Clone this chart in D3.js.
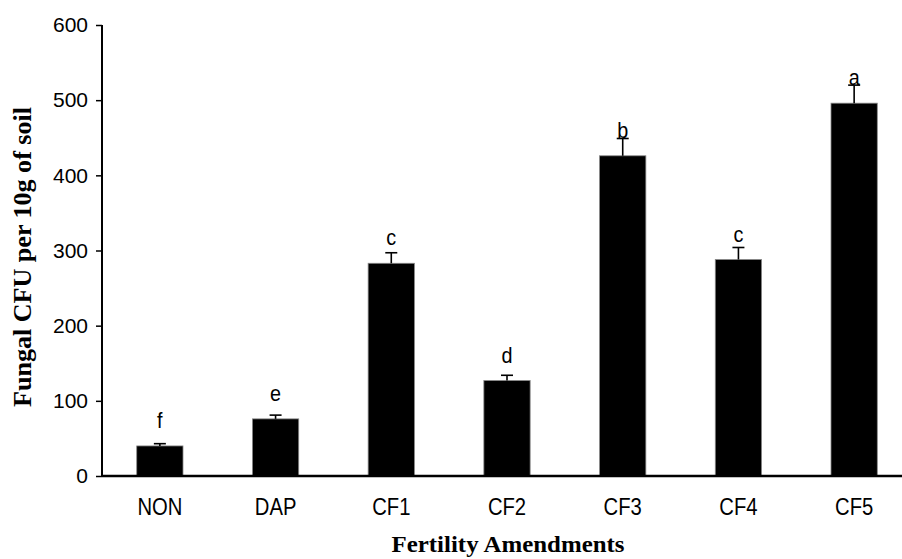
<!DOCTYPE html>
<html>
<head>
<meta charset="utf-8">
<script src="https://cdn.jsdelivr.net/npm/d3@7"></script>
<style>
body { margin: 0; background: #fff; }
svg { display: block; }
.y-axis .tick text { font-family: "Liberation Sans", Arial, sans-serif; font-size: 21px; fill: #000; }
</style>
</head>
<body>
<svg id="chart"></svg>
<script>
// data
var categories = ["NON", "DAP", "CF1", "CF2", "CF3", "CF4", "CF5"];
var cfuValues = [40, 76, 283, 127, 426, 288, 496];
var cfuErrors = [3, 5, 14, 7, 23, 16, 24];
var letters = ["f", "e", "c", "d", "b", "c", "a"];
var yTicks = [0, 100, 200, 300, 400, 500, 600];

var margin = {top: 25, right: -10, bottom: 83, left: 102};
var width = 902 - margin.left - margin.right;
var height = 559 - margin.top - margin.bottom;

var svg = d3.select("#chart")
  .attr("width", 902)
  .attr("height", 559);

var g = svg.append("g")
  .attr("transform", "translate(" + margin.left + "," + margin.top + ")");

var x = d3.scaleBand().domain(categories).range([0, width]).padding(0);
var y = d3.scaleLinear().domain([0, 600]).range([height, 0]);
var barW = x.bandwidth() * 0.4;

var data = categories.map(function(c, i) {
  return {cat: c, val: cfuValues[i], err: cfuErrors[i], letter: letters[i]};
});

// bars
g.selectAll("rect.bar")
  .data(data)
  .enter()
  .append("rect")
  .attr("class", "bar")
  .attr("x", function(d) { return x(d.cat) + (x.bandwidth() - barW) / 2; })
  .attr("y", function(d) { return y(d.val); })
  .attr("width", barW)
  .attr("height", function(d) { return height - y(d.val); })
  .style("fill", "#000")
  .style("stroke", "#888")
  .style("stroke-width", "0.8px");

// error bars (upper half only)
var eb = g.selectAll("g.err").data(data).enter().append("g").attr("class", "err");
eb.append("line")
  .attr("x1", function(d) { return x(d.cat) + x.bandwidth() / 2; })
  .attr("x2", function(d) { return x(d.cat) + x.bandwidth() / 2; })
  .attr("y1", function(d) { return y(d.val); })
  .attr("y2", function(d) { return y(d.val + d.err); })
  .style("stroke", "#000").style("stroke-width", "1.6px");
eb.append("line")
  .attr("x1", function(d) { return x(d.cat) + x.bandwidth() / 2 - 6; })
  .attr("x2", function(d) { return x(d.cat) + x.bandwidth() / 2 + 6; })
  .attr("y1", function(d) { return y(d.val + d.err); })
  .attr("y2", function(d) { return y(d.val + d.err); })
  .style("stroke", "#000").style("stroke-width", "1.6px");

// significance letters
g.selectAll("text.letter")
  .data(data)
  .enter()
  .append("text")
  .attr("class", "letter")
  .attr("transform", function(d) {
    return "translate(" + (x(d.cat) + x.bandwidth() / 2) + "," + (y(d.val) - 18) + ") scale(0.9,1)";
  })
  .attr("text-anchor", "middle")
  .style("font-family", "'Liberation Sans', Arial, sans-serif")
  .style("font-size", "22px")
  .text(function(d) { return d.letter; });

// axes
var yAxis = d3.axisLeft(y).tickValues(yTicks).tickSize(6).tickPadding(8);
var yG = g.append("g").attr("class", "y-axis").call(yAxis);
yG.select(".domain").attr("d", "M0," + y(600) + "V" + height).style("stroke", "#000").style("stroke-width", "2px");
yG.selectAll(".tick line").style("stroke", "#000").style("stroke-width", "1.5px");

var xAxis = d3.axisBottom(x).tickSize(0).tickPadding(24);
var xG = g.append("g").attr("class", "x-axis")
  .attr("transform", "translate(0," + height + ")")
  .call(xAxis);
xG.select(".domain").attr("d", "M0,0H" + width).style("stroke", "#000").style("stroke-width", "2.5px");
// condensed look of the category labels
xG.selectAll(".tick text")
  .attr("y", null).attr("dy", null)
  .attr("transform", "translate(0,39) scale(0.88,1)")
  .style("font-family", "'Liberation Sans', Arial, sans-serif")
  .style("font-size", "23px")
  .style("fill", "#000");

// axis titles
svg.append("text")
  .attr("x", 508)
  .attr("y", 552)
  .attr("text-anchor", "middle")
  .attr("textLength", 233)
  .attr("lengthAdjust", "spacingAndGlyphs")
  .style("font-family", "'Liberation Serif', 'Times New Roman', serif")
  .style("font-weight", "bold")
  .style("font-size", "23px")
  .text("Fertility Amendments");

svg.append("text")
  .attr("transform", "translate(31,257) rotate(-90)")
  .attr("text-anchor", "middle")
  .attr("textLength", 300)
  .attr("lengthAdjust", "spacingAndGlyphs")
  .style("font-family", "'Liberation Serif', 'Times New Roman', serif")
  .style("font-weight", "bold")
  .style("font-size", "25px")
  .text("Fungal CFU per 10g of soil");
</script>
</body>
</html>
